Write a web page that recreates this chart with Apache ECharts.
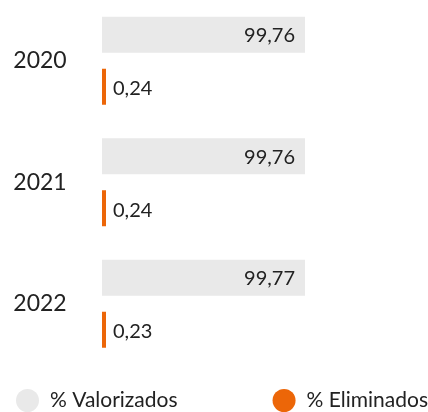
<!DOCTYPE html>
<html>
<head>
<meta charset="utf-8">
<script src="https://cdn.jsdelivr.net/npm/echarts@6/dist/echarts.min.js"></script>
<style>
    html, body { margin: 0; padding: 0; background: #fff; }
    #main { width: 428px; height: 412px; }
</style>
</head>
<body>
<div id="main"></div>
<script>
    var years = ['2020', '2021', '2022'];
    var valorizados = [99.76, 99.76, 99.77]; // % Valorizados
    var eliminados = [0.24, 0.24, 0.23]; // % Eliminados

    var font = 'Lato';
    // coma decimal
    function fmt(p) {
        return String(p.value).replace('.', ',');
    }

    var myChart = echarts.init(document.getElementById('main'));
    myChart.setOption({
        animation: false,
        textStyle: { fontFamily: font },
        color: ['#e9e9e9', '#ec6608'],
        grid: { left: 102, width: 203.5, top: -4.5, height: 369 },
        legend: {
            left: 16,
            top: 389,
            width: 430,
            padding: 0,
            icon: 'circle',
            itemWidth: 23,
            itemHeight: 23,
            itemGap: 95,
            textStyle: { fontSize: 21, color: '#222', fontFamily: font, padding: [0, 0, 0, 6] },
            data: ['% Valorizados', '% Eliminados']
        },
        xAxis: {
            type: 'value',
            min: 0,
            max: 100,
            show: false
        },
        yAxis: {
            type: 'category',
            inverse: true,
            data: years,
            axisLine: { show: false },
            axisTick: { show: false },
            splitLine: { show: false },
            axisLabel: {
                fontSize: 23,
                color: '#222',
                fontFamily: font,
                align: 'center',
                margin: 62,
                padding: [4, 0, 0, 0]
            }
        },
        series: [
            {
                name: '% Valorizados',
                type: 'bar',
                data: valorizados,
                barWidth: 36,
                barGap: '44.4%',
                label: {
                    show: true,
                    position: 'insideRight',
                    distance: 10,
                    offset: [0, 1],
                    fontSize: 20,
                    color: '#222',
                    fontFamily: font,
                    formatter: fmt
                }
            },
            {
                name: '% Eliminados',
                type: 'bar',
                data: eliminados,
                barWidth: 36,
                barMinHeight: 4,
                label: {
                    show: true,
                    position: 'right',
                    distance: 7,
                    offset: [0, 2],
                    fontSize: 20,
                    color: '#222',
                    fontFamily: font,
                    formatter: fmt
                }
            }
        ]
    });
</script>
</body>
</html>
